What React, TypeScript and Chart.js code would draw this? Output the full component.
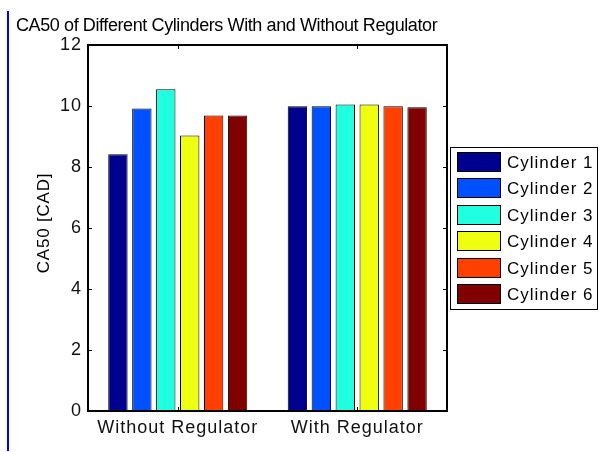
import React, { useEffect, useRef } from "react";
import { Chart, registerables } from "chart.js";

Chart.register(...registerables);

const categories = ["Without Regulator", "With Regulator"];
const seriesNames = ["Cylinder 1", "Cylinder 2", "Cylinder 3", "Cylinder 4", "Cylinder 5", "Cylinder 6"];
const cylinder1 = [8.42, 9.99];
const cylinder2 = [9.92, 9.99];
const cylinder3 = [10.55, 10.05];
const cylinder4 = [9.03, 10.05];
const cylinder5 = [9.69, 9.99];
const cylinder6 = [9.69, 9.96];
const seriesValues = [cylinder1, cylinder2, cylinder3, cylinder4, cylinder5, cylinder6];
const seriesColors = ["#00008f", "#0050ff", "#20ffdf", "#efff10", "#ff4000", "#800000"];
const yMin = 0;
const yMax = 12;
const yStep = 2;
const titleText = "CA50 of Different Cylinders With and Without Regulator";
const yAxisTitle = "CA50 [CAD]";

const FONT = "'Liberation Sans', Arial, Helvetica, sans-serif";

const framePlugin = {
  id: "matlabFrame",
  beforeDraw(chart: any) {
    const ctx = chart.ctx;
    ctx.fillStyle = "#ffffff";
    ctx.fillRect(0, 0, chart.width, chart.height);
    (ctx as any).letterSpacing = "1px";
  },
  afterDraw(chart: any) {
    const ctx = chart.ctx;
    const { left, right, top, bottom } = chart.chartArea;
    const xs = chart.scales.x;
    const ys = chart.scales.y;
    ctx.save();
    // box
    ctx.strokeStyle = "#000";
    ctx.lineWidth = 2;
    ctx.strokeRect(left, top, right - left, bottom - top);
    // ticks
    ctx.lineWidth = 1;
    ctx.beginPath();
    ys.ticks.forEach((t: any) => {
      const y = Math.round(ys.getPixelForValue(t.value)) + 0.5;
      ctx.moveTo(left, y);
      ctx.lineTo(left + 4, y);
      ctx.moveTo(right, y);
      ctx.lineTo(right - 4, y);
    });
    categories.forEach((_, i) => {
      const x = Math.round(xs.getPixelForValue(i)) + 0.5;
      ctx.moveTo(x, bottom);
      ctx.lineTo(x, bottom - 4);
      ctx.moveTo(x, top);
      ctx.lineTo(x, top + 4);
    });
    ctx.stroke();

    // title
    (ctx as any).letterSpacing = "-0.4px";
    ctx.fillStyle = "#000";
    ctx.font = `18px ${FONT}`;
    ctx.textAlign = "left";
    ctx.textBaseline = "alphabetic";
    ctx.fillText(titleText, 16, 31);

    // y axis title
    (ctx as any).letterSpacing = "0.8px";
    ctx.save();
    ctx.translate(48.5, 223);
    ctx.rotate(-Math.PI / 2);
    ctx.textAlign = "center";
    ctx.textBaseline = "alphabetic";
    ctx.font = `17px ${FONT}`;
    ctx.fillText(yAxisTitle, 0, 0);
    ctx.restore();

    // legend
    const lx = 450.5, ly = 147.5, lw = 147, lh = 162;
    ctx.fillStyle = "#fff";
    ctx.fillRect(lx, ly, lw, lh);
    ctx.strokeStyle = "#000";
    ctx.lineWidth = 1;
    ctx.strokeRect(lx, ly, lw, lh);
    (ctx as any).letterSpacing = "1px";
    ctx.font = `17px ${FONT}`;
    ctx.textAlign = "left";
    ctx.textBaseline = "middle";
    chart.data.datasets.forEach((ds: any, i: number) => {
      const sy = 152 + i * 26.4;
      const syR = Math.round(sy);
      ctx.fillStyle = ds.backgroundColor;
      ctx.fillRect(457, syR, 44, 20);
      ctx.strokeStyle = "#000";
      ctx.strokeRect(457.5, syR + 0.5, 43, 19);
      ctx.fillStyle = "#000";
      ctx.fillText(ds.label, 507, syR + 11);
    });
    ctx.restore();
  },
};

export default function App() {
  const ref = useRef<HTMLCanvasElement>(null);
  useEffect(() => {
    if (!ref.current) return;
    const chart = new Chart(ref.current, {
      type: "bar",
      data: {
        labels: categories,
        datasets: seriesNames.map((name, i) => ({
          label: name,
          data: seriesValues[i],
          backgroundColor: seriesColors[i],
          borderColor: "#000",
          borderWidth: 1,
          borderSkipped: false,
          barPercentage: 0.81,
          categoryPercentage: 0.8,
        })),
      },
      options: {
        responsive: false,
        animation: false,
        devicePixelRatio: 1,
        layout: { padding: { top: 45, right: 152, left: 0, bottom: 0 } },
        plugins: {
          legend: { display: false },
          title: { display: false },
          tooltip: { enabled: false },
        },
        scales: {
          x: {
            grid: { display: false, drawTicks: false },
            border: { display: false },
            ticks: { color: "#111", font: { family: FONT, size: 18 }, padding: 6, maxRotation: 0, autoSkip: false },
            afterFit: (s: any) => {
              s.height = 41;
            },
          },
          y: {
            min: yMin,
            max: yMax,
            grid: { display: false, drawTicks: false },
            border: { display: false },
            ticks: { stepSize: yStep, color: "#111", font: { family: FONT, size: 18 }, padding: 6 },
            afterFit: (s: any) => {
              s.width = 88;
            },
          },
        },
      },
      plugins: [framePlugin],
    });
    return () => chart.destroy();
  }, []);

  return (
    <div style={{ position: "fixed", left: 0, top: 0, width: 599, height: 452, background: "#fff", overflow: "hidden" }}>
      <canvas ref={ref} width={599} height={452} style={{ position: "absolute", left: 0, top: 0, width: 599, height: 452 }} />
      <div style={{ position: "absolute", left: 7, top: 11, width: 2, height: 440, background: "#0000ff" }} />
    </div>
  );
}
